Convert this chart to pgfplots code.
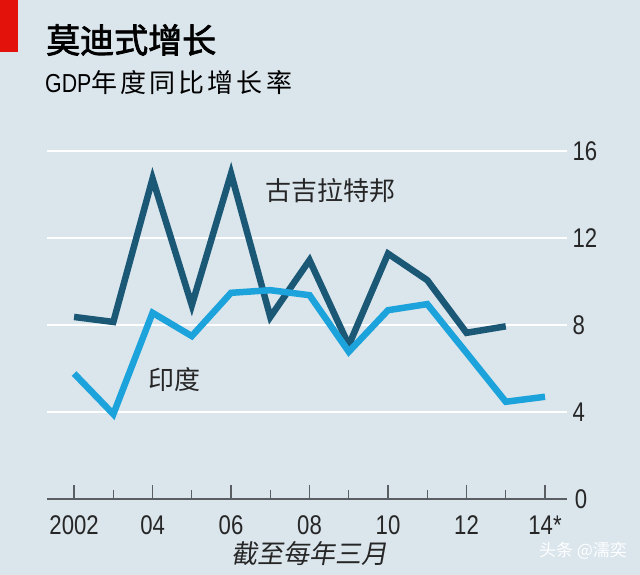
\documentclass[border=0pt]{standalone}
\usepackage{pgfplots}
\pgfplotsset{compat=1.18}
\usepackage{fontspec}
\setmainfont{Liberation Sans}
\newfontfamily\cjk{Noto Sans CJK SC}
\newfontfamily\cjkb{Noto Sans CJK SC}[FakeBold=2.2]
\newfontfamily\cjksp{Noto Sans CJK SC}[LetterSpace=12]
\newfontfamily\cjkit{Noto Sans CJK SC}[FakeSlant=0.18]
\newfontfamily\numfont{Liberation Sans}[FakeStretch=0.82]
\definecolor{bg}{HTML}{DAE5EC}
\definecolor{guj}{HTML}{1B5876}
\definecolor{ind}{HTML}{1CA3DB}
\definecolor{ered}{HTML}{E3120B}
\definecolor{axgrey}{HTML}{5A5F63}
\begin{document}
\begin{tikzpicture}[x=1pt,y=1pt]
\fill[bg] (0,0) rectangle (640,575);
\fill[ered] (0,523) rectangle (18,575);
\node[anchor=west,inner sep=0] at (46,535) {\cjkb\fontsize{34}{38}\selectfont 莫迪式增长};
\node[anchor=west,inner sep=0] at (45,492) {\fontsize{26}{30}\selectfont{\numfont GDP}\cjksp 年度同比增长率};
\begin{axis}[
  at={(47pt,76pt)}, anchor=south west,
  scale only axis, width=520pt, height=348pt,
  xmin=2001.31, xmax=2014.56, ymin=0, ymax=16,
  axis line style={draw=none},
  axis x line*=bottom,
  xtick={2002,2004,2006,2008,2010,2012,2014},
  xticklabels={2002,04,06,08,10,12,14*},
  minor xtick={2003,2005,2007,2009,2011,2013},
  tick align=inside,
  major tick length=14pt, minor tick length=9pt,
  every tick/.style={draw=axgrey,line width=1.2pt},
  ytick={4,8,12,16},
  ymajorgrids, grid style={white,line width=2.6pt},
  yticklabel pos=right,
  y tick style={draw=none},
  yticklabel style={anchor=west,xshift=2pt,font=\numfont\fontsize{27}{30}\selectfont,text=black!85},
  xticklabel style={yshift=-13pt,font=\numfont\fontsize{27}{30}\selectfont,text=black!85},
  /pgf/number format/assume math mode=true,
  clip=false,
]
\draw[axgrey,line width=1.6pt] (axis cs:2001.31,0) -- (axis cs:2014.56,0);
\node[anchor=west,inner sep=0,text=black!85] at (axis cs:2014.6,0) {\hspace{6pt}\numfont\fontsize{27}{30}\selectfont 0};
\addplot[guj,line width=6.5pt,line join=miter,miter limit=20] coordinates {
(2002,8.37)(2003,8.14)(2004,14.73)(2005,8.91)(2006,14.96)(2007,8.37)(2008,10.98)(2009,7.07)(2010,11.28)(2011,10.06)(2012,7.64)(2013,7.94)};
\addplot[ind,line width=6.5pt,line join=miter,miter limit=20] coordinates {
(2002,5.77)(2003,3.90)(2004,8.56)(2005,7.49)(2006,9.48)(2007,9.60)(2008,9.37)(2009,6.77)(2010,8.68)(2011,8.96)(2012,6.72)(2013,4.47)(2014,4.70)};
\end{axis}
\node[inner sep=0,text=black!85] at (330,384) {\cjk\fontsize{26}{28}\selectfont 古吉拉特邦};
\node[inner sep=0,text=black!85] at (174,195) {\cjk\fontsize{26}{28}\selectfont 印度};
\node[inner sep=0,text=black!85] at (309,21) {\cjkit\fontsize{26}{28}\selectfont 截至每年三月};
\node[inner sep=0,text=white] at (583,24) {\cjk\fontsize{17}{20}\selectfont 头条 @濡奕};
\end{tikzpicture}
\end{document}
